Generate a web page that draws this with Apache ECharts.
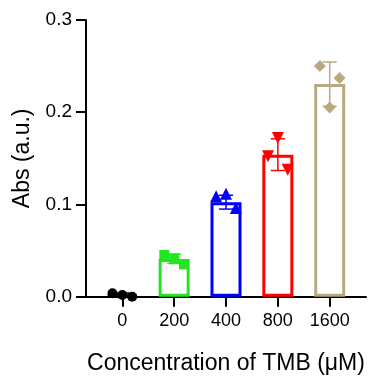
<!DOCTYPE html>
<html>
<head>
<meta charset="utf-8">
<script src="https://cdn.jsdelivr.net/npm/echarts@6/dist/echarts.min.js"></script>
<style>
html,body{margin:0;padding:0;background:#fff;}
#c{width:375px;height:381px;}
</style>
</head>
<body>
<div id="c"></div>
<script>
// ---- data ----
const categories = ['0', '200', '400', '800', '1600'];
const means = [0.002, 0.041, 0.1025, 0.154, 0.2305];
const sds = [0.002, 0.005, 0.0075, 0.0172, 0.024];
const rep0 = [0.0037, 0.0018, 0.0];
const rep200 = [0.0452, 0.0416, 0.0351];
const rep400 = [0.1089, 0.1117, 0.0962];
const rep800 = [0.1523, 0.172, 0.1377];
const rep1600 = [0.250, 0.205, 0.237];
const jitter = [-0.19, 0, 0.19];

const colors = ['#000000', '#22e622', '#0000ff', '#ff0000', '#b8aa80'];
const symbols = ['circle', 'rect', 'triangle', 'triangle', 'diamond'];
const symbolSizes = [10, 10, 12, 12, 12];
const symbolRotates = [0, 0, 0, 180, 0];
const reps = [rep0, rep200, rep400, rep800, rep1600];
const idx = categories.map((c, i) => i);
const font = 'Liberation Sans, Arial, sans-serif';

const chart = echarts.init(document.getElementById('c'), null, {renderer: 'canvas'});

const pointSeries = reps.map((r, i) => ({
  type: 'scatter',
  name: categories[i],
  data: r.map((v, k) => [i + jitter[k], v]),
  symbol: symbols[i],
  symbolSize: symbolSizes[i],
  symbolRotate: symbolRotates[i],
  itemStyle: {color: colors[i], opacity: 1},
  z: 5,
  silent: true
}));

const option = {
  backgroundColor: '#fff',
  animation: false,
  grid: {left: 86, right: 9, top: 20, bottom: 84.3, containLabel: false},
  xAxis: {
    type: 'value',
    min: -0.7,
    max: 4.7,
    splitLine: {show: false},
    axisLine: {show: true, onZero: false, lineStyle: {color: '#000', width: 2}},
    axisTick: {show: true, customValues: idx, length: 10, lineStyle: {color: '#000', width: 2}},
    axisLabel: {
      show: true, customValues: idx, margin: 15,
      formatter: v => categories[Math.round(v)],
      color: '#000', fontSize: 18, fontFamily: font
    },
    name: 'Concentration of TMB (μM)',
    nameLocation: 'middle',
    nameGap: 55,
    nameTextStyle: {color: '#000', fontSize: 23, fontFamily: font}
  },
  yAxis: {
    type: 'value',
    min: 0,
    max: 0.3,
    interval: 0.1,
    splitLine: {show: false},
    axisLine: {show: true, onZero: false, lineStyle: {color: '#000', width: 2}},
    axisTick: {show: true, length: 10, lineStyle: {color: '#000', width: 2}},
    axisLabel: {
      margin: 14, color: '#000', fontSize: 19, fontFamily: font,
      formatter: v => v.toFixed(1)
    },
    name: 'Abs (a.u.)',
    nameLocation: 'middle',
    nameGap: 52,
    nameTextStyle: {color: '#000', fontSize: 23, fontFamily: font}
  },
  series: [
    {
      type: 'bar',
      barWidth: 31,
      data: means.map((m, i) => ({
        value: [i, m],
        itemStyle: {color: '#fff', borderColor: colors[i], borderWidth: 3}
      })),
      z: 2,
      silent: true
    },
    {
      type: 'custom',
      data: means.map((m, i) => [i, m, sds[i]]),
      renderItem: function (params, api) {
        const i = params.dataIndex;
        const x = api.value(0), m = api.value(1), s = api.value(2);
        const top = api.coord([x, m + s]);
        const bot = api.coord([x, m - s]);
        const hw = 7;
        const st = {stroke: colors[i], lineWidth: 1.5};
        return {
          type: 'group',
          children: [
            {type: 'line', shape: {x1: top[0], y1: top[1], x2: bot[0], y2: bot[1]}, style: st},
            {type: 'line', shape: {x1: top[0] - hw, y1: top[1], x2: top[0] + hw, y2: top[1]}, style: st},
            {type: 'line', shape: {x1: bot[0] - hw, y1: bot[1], x2: bot[0] + hw, y2: bot[1]}, style: st}
          ]
        };
      },
      z: 3,
      silent: true
    }
  ].concat(pointSeries)
};
chart.setOption(option);
</script>
</body>
</html>
